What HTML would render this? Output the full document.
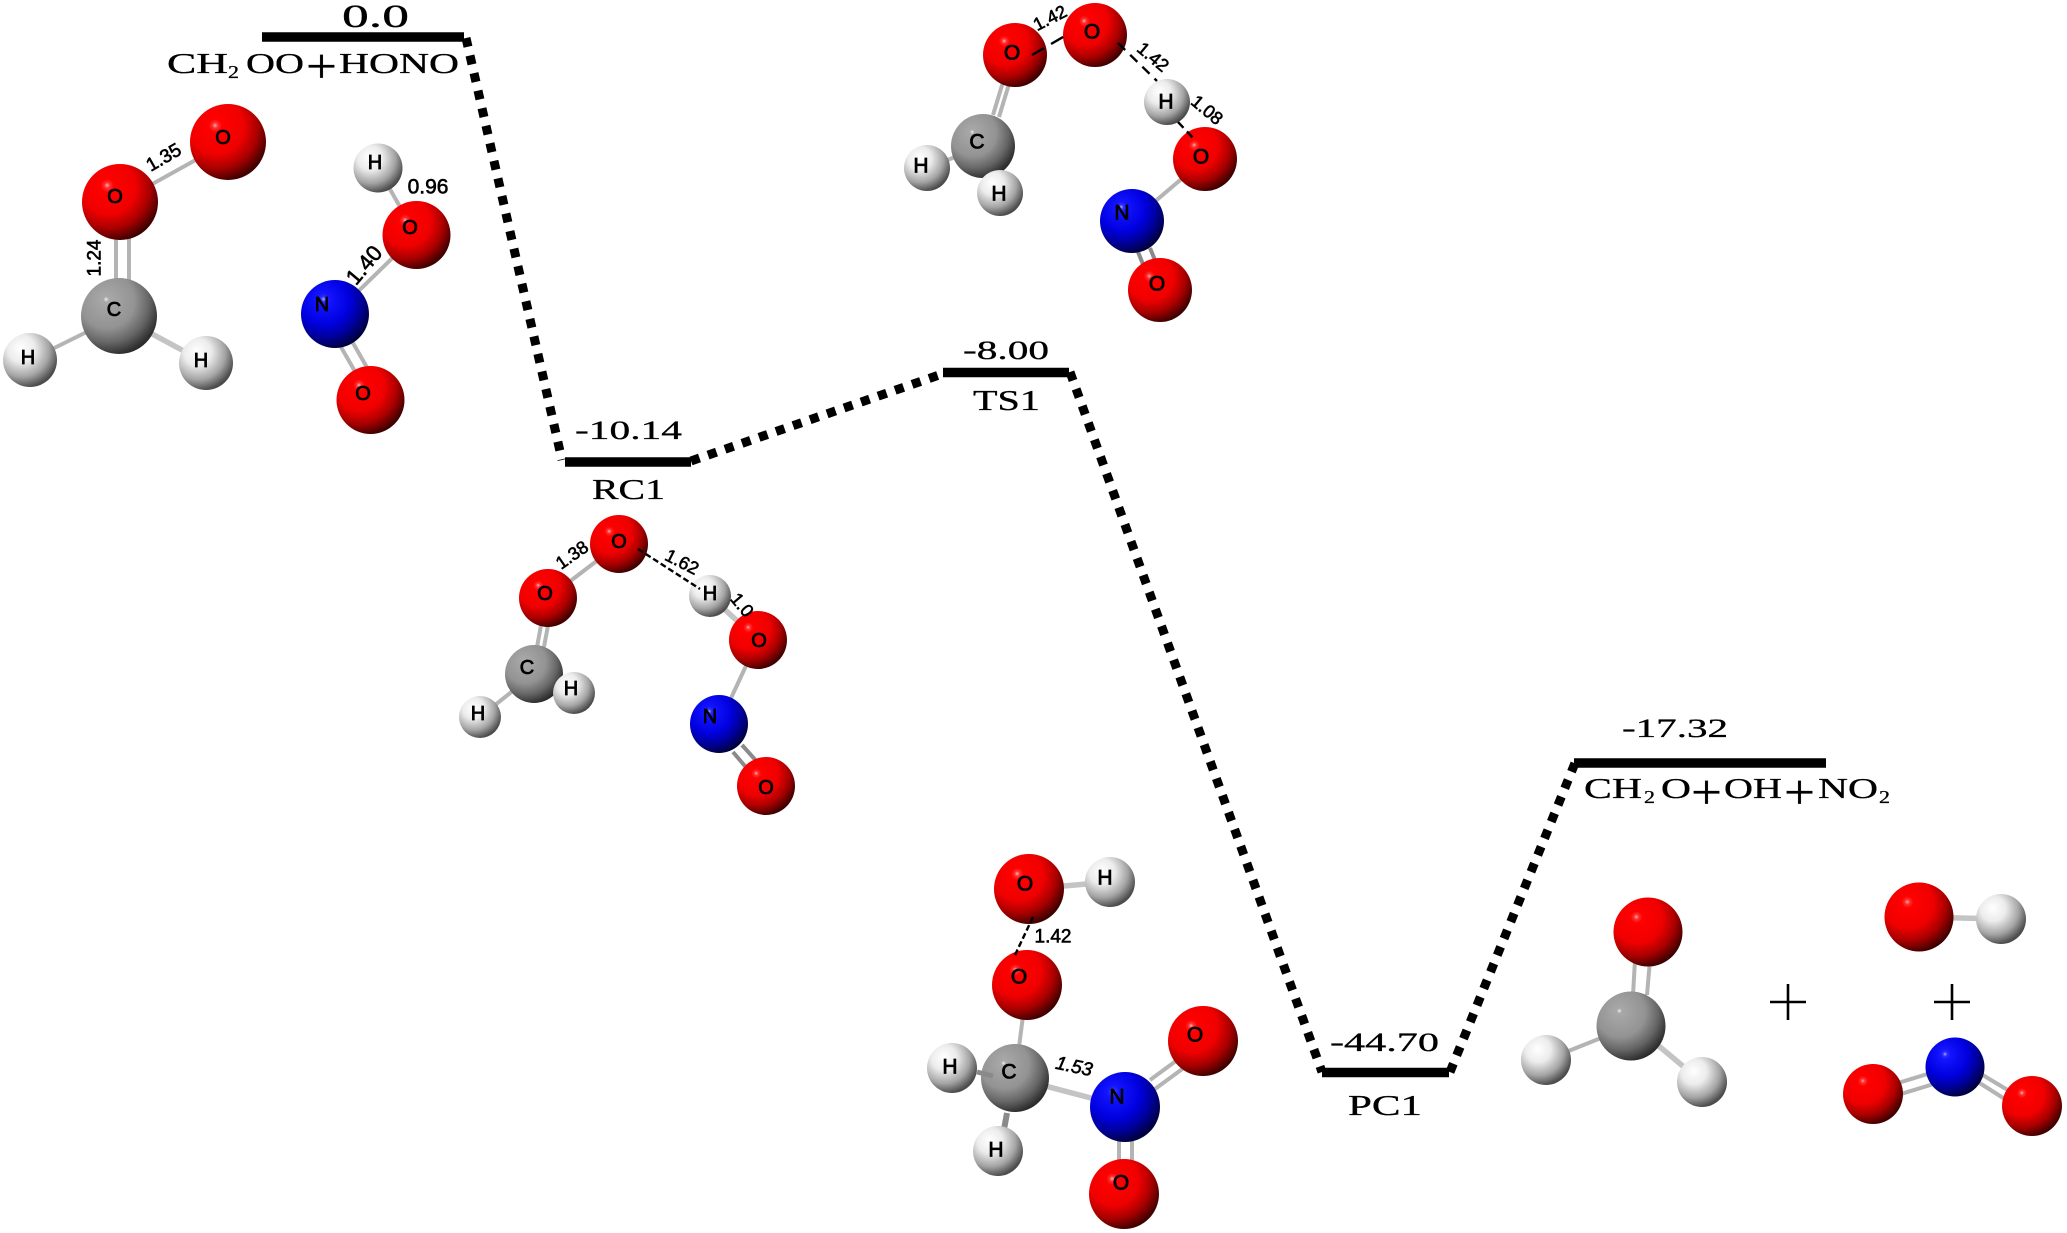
<!DOCTYPE html>
<html>
<head>
<meta charset="utf-8">
<style>
html,body{margin:0;padding:0;background:#fff;}
svg{display:block;}
.t{font-family:"Liberation Serif",serif;fill:#000;stroke:#000;stroke-width:.3;}
.a{font-family:"Liberation Sans",sans-serif;fill:#000;stroke:#000;stroke-width:.8;text-anchor:middle;dominant-baseline:central;}
.l{font-family:"Liberation Sans",sans-serif;fill:#000;stroke:#000;stroke-width:.6;text-anchor:middle;dominant-baseline:central;}
.bar{stroke:#000;stroke-width:9.5;fill:none;}
.dot{stroke:#000;stroke-width:9;stroke-dasharray:9 9;fill:none;}
.b{stroke:#b4b4b4;stroke-width:4;fill:none;}
.w{stroke:#c4c4c4;stroke-width:5.5;fill:none;}
.d{stroke:#8a8a8a;stroke-width:4;fill:none;}
.k{stroke:#000;stroke-width:2.4;stroke-dasharray:8 5;fill:none;}
</style>
</head>
<body>
<svg xmlns="http://www.w3.org/2000/svg" width="2067" height="1233" viewBox="0 0 2067 1233">
<defs>
<radialGradient id="R" cx=".36" cy=".32" r=".72" fx=".33" fy=".28">
<stop offset="0" stop-color="#ffb0b0"/><stop offset=".05" stop-color="#ff3030"/><stop offset=".12" stop-color="#ff0000"/><stop offset=".5" stop-color="#f00000"/><stop offset=".75" stop-color="#a80000"/><stop offset=".95" stop-color="#4c0000"/><stop offset="1" stop-color="#3c0000"/>
</radialGradient>
<radialGradient id="C" cx=".36" cy=".32" r=".72" fx=".33" fy=".28">
<stop offset="0" stop-color="#eeeeee"/><stop offset=".05" stop-color="#a8a8a8"/><stop offset=".5" stop-color="#939393"/><stop offset=".75" stop-color="#666666"/><stop offset=".95" stop-color="#333333"/><stop offset="1" stop-color="#2a2a2a"/>
</radialGradient>
<radialGradient id="H" cx=".36" cy=".32" r=".72" fx=".33" fy=".28">
<stop offset="0" stop-color="#ffffff"/><stop offset=".35" stop-color="#ececec"/><stop offset=".7" stop-color="#a4a4a4"/><stop offset=".95" stop-color="#505050"/><stop offset="1" stop-color="#484848"/>
</radialGradient>
<radialGradient id="N" cx=".36" cy=".32" r=".72" fx=".33" fy=".28">
<stop offset="0" stop-color="#b0b0ff"/><stop offset=".05" stop-color="#3030ff"/><stop offset=".12" stop-color="#1414ff"/><stop offset=".5" stop-color="#0000e0"/><stop offset=".75" stop-color="#000098"/><stop offset=".95" stop-color="#00004a"/><stop offset="1" stop-color="#000038"/>
</radialGradient>
</defs>

<!-- connectors -->
<line class="dot" x1="466" y1="38" x2="562" y2="460"/>
<line class="dot" x1="691" y1="461" x2="945" y2="373"/>
<line class="dot" x1="1070" y1="372" x2="1322" y2="1072"/>
<line class="dot" x1="1450" y1="1072" x2="1575" y2="763"/>

<!-- levels -->
<line class="bar" x1="262" y1="37" x2="464" y2="37"/>
<line class="bar" x1="565" y1="462" x2="691" y2="462"/>
<line class="bar" x1="943" y1="372.500" x2="1069" y2="372.500"/>
<line class="bar" x1="1322" y1="1072.500" x2="1449" y2="1072.500"/>
<line class="bar" x1="1574" y1="763" x2="1826" y2="763"/>

<!-- level labels -->
<text class="t" x="342" y="27" font-size="33" textLength="67" lengthAdjust="spacingAndGlyphs">0.0</text>
<text class="t" x="167" y="73" font-size="28" textLength="61" lengthAdjust="spacingAndGlyphs">CH</text>
<text class="t" x="228" y="78" font-size="18" textLength="11" lengthAdjust="spacingAndGlyphs">2</text>
<text class="t" x="246" y="73" font-size="28" textLength="58" lengthAdjust="spacingAndGlyphs">OO</text>
<text class="t" x="306" y="83" font-size="50" textLength="31" lengthAdjust="spacingAndGlyphs">+</text>
<text class="t" x="339" y="73" font-size="28" textLength="120" lengthAdjust="spacingAndGlyphs">HONO</text>
<text class="t" x="575" y="439" font-size="26" textLength="107" lengthAdjust="spacingAndGlyphs">-10.14</text>
<text class="t" x="592" y="499" font-size="28" textLength="73" lengthAdjust="spacingAndGlyphs">RC1</text>
<text class="t" x="963" y="359" font-size="26" textLength="86" lengthAdjust="spacingAndGlyphs">-8.00</text>
<text class="t" x="973" y="410" font-size="28" textLength="67" lengthAdjust="spacingAndGlyphs">TS1</text>
<text class="t" x="1330" y="1051" font-size="26" textLength="109" lengthAdjust="spacingAndGlyphs">-44.70</text>
<text class="t" x="1348" y="1115" font-size="28" textLength="74" lengthAdjust="spacingAndGlyphs">PC1</text>
<text class="t" x="1622" y="737" font-size="26" textLength="106" lengthAdjust="spacingAndGlyphs">-17.32</text>
<text class="t" x="1584" y="798" font-size="28" textLength="58" lengthAdjust="spacingAndGlyphs">CH</text>
<text class="t" x="1644" y="803" font-size="18" textLength="11" lengthAdjust="spacingAndGlyphs">2</text>
<text class="t" x="1661" y="798" font-size="28" textLength="30" lengthAdjust="spacingAndGlyphs">O</text>
<text class="t" x="1691" y="809" font-size="50" textLength="31" lengthAdjust="spacingAndGlyphs">+</text>
<text class="t" x="1724" y="798" font-size="28" textLength="58" lengthAdjust="spacingAndGlyphs">OH</text>
<text class="t" x="1784" y="809" font-size="50" textLength="31" lengthAdjust="spacingAndGlyphs">+</text>
<text class="t" x="1818" y="798" font-size="28" textLength="60" lengthAdjust="spacingAndGlyphs">NO</text>
<text class="t" x="1879" y="803" font-size="18" textLength="11" lengthAdjust="spacingAndGlyphs">2</text>

<!-- molecule: CH2OO -->
<line class="b" x1="120" y1="202" x2="228" y2="142"/>
<line class="b" x1="116" y1="230" x2="116" y2="290"/>
<line class="b" x1="129" y1="230" x2="129" y2="290"/>
<line class="b" x1="119" y1="316" x2="30" y2="360"/>
<line class="w" x1="119" y1="316" x2="206" y2="363"/>
<circle cx="228" cy="142" r="38" fill="url(#R)"/>
<circle cx="120" cy="202" r="38" fill="url(#R)"/>
<circle cx="119" cy="316" r="38" fill="url(#C)"/>
<circle cx="30" cy="360" r="27" fill="url(#H)"/>
<circle cx="206" cy="363" r="27" fill="url(#H)"/>
<text class="a" x="223" y="138" font-size="20">O</text>
<text class="a" x="115" y="197" font-size="20">O</text>
<text class="a" x="114" y="310" font-size="20">C</text>
<text class="a" x="28" y="358" font-size="20">H</text>
<text class="a" x="201" y="361" font-size="20">H</text>
<text class="l" font-size="19" transform="translate(164 158) rotate(-30)">1.35</text>
<text class="l" font-size="19" transform="translate(95 258) rotate(-90)">1.24</text>

<!-- molecule: HONO -->
<line class="b" x1="378" y1="168" x2="416" y2="235"/>
<line class="b" x1="416" y1="235" x2="335" y2="314"/>
<line class="b" x1="341" y1="347" x2="357" y2="375"/>
<line class="b" x1="353" y1="343" x2="369" y2="371"/>
<circle cx="378" cy="168" r="24.500" fill="url(#H)"/>
<circle cx="416.500" cy="235" r="34" fill="url(#R)"/>
<circle cx="335" cy="314" r="34" fill="url(#N)"/>
<circle cx="370.500" cy="400" r="34" fill="url(#R)"/>
<text class="a" x="375" y="163" font-size="20">H</text>
<text class="a" x="410" y="228" font-size="20">O</text>
<text class="a" x="322" y="305" font-size="20">N</text>
<text class="a" x="363" y="394" font-size="20">O</text>
<text class="l" font-size="21" x="428" y="187">0.96</text>
<text class="l" font-size="22" transform="translate(364 265) rotate(-50)">1.40</text>

<!-- molecule: TS1 -->
<line class="b" x1="993" y1="115" x2="1003" y2="82"/>
<line class="b" x1="999" y1="117" x2="1009" y2="84"/>
<line class="b" x1="983" y1="146" x2="927" y2="168"/>
<line class="w" x1="983" y1="146" x2="1000" y2="193"/>
<line class="b" x1="1205" y1="159" x2="1132" y2="221"/>
<line class="d" x1="1138" y1="252" x2="1147" y2="274"/>
<line class="d" x1="1150" y1="248" x2="1159" y2="270"/>
<circle cx="983" cy="146" r="32" fill="url(#C)"/>
<circle cx="927" cy="168" r="23" fill="url(#H)"/>
<circle cx="1000" cy="193" r="23" fill="url(#H)"/>
<circle cx="1015" cy="55" r="32" fill="url(#R)"/>
<circle cx="1095" cy="35" r="32" fill="url(#R)"/>
<circle cx="1167" cy="102" r="23" fill="url(#H)"/>
<circle cx="1205" cy="159" r="32" fill="url(#R)"/>
<circle cx="1132" cy="221" r="32" fill="url(#N)"/>
<circle cx="1160" cy="290" r="32" fill="url(#R)"/>
<line class="k" x1="1032" y1="55" x2="1070" y2="33" style="stroke-dasharray:14 8"/>
<line class="k" x1="1118" y1="43" x2="1157" y2="81" style="stroke-dasharray:10 7"/>
<line class="k" x1="1178" y1="122" x2="1195" y2="140"/>
<text class="a" x="1012" y="53" font-size="21">O</text>
<text class="a" x="1092" y="32" font-size="21">O</text>
<text class="a" x="1166" y="102" font-size="21">H</text>
<text class="a" x="1201" y="157" font-size="21">O</text>
<text class="a" x="1122" y="213" font-size="21">N</text>
<text class="a" x="1157" y="284" font-size="21">O</text>
<text class="a" x="977" y="142" font-size="21">C</text>
<text class="a" x="921" y="166" font-size="21">H</text>
<text class="a" x="999" y="194" font-size="21">H</text>
<text class="l" font-size="18" transform="translate(1050 18) rotate(-27)">1.42</text>
<text class="l" font-size="18" transform="translate(1153 57) rotate(40)">1.42</text>
<text class="l" font-size="18" transform="translate(1207 110) rotate(40)">1.08</text>

<!-- molecule: RC1 -->
<line class="b" x1="619" y1="544" x2="548" y2="598"/>
<line class="b" x1="537" y1="647" x2="542" y2="620"/>
<line class="b" x1="544" y1="647" x2="549" y2="620"/>
<line class="b" x1="534" y1="674" x2="480" y2="717"/>
<line class="w" x1="534" y1="674" x2="574" y2="693"/>
<line class="w" x1="710" y1="596" x2="758" y2="640"/>
<line class="b" x1="758" y1="640" x2="719" y2="724"/>
<line class="d" x1="733" y1="752" x2="750" y2="772"/>
<line class="d" x1="742" y1="745" x2="759" y2="764"/>
<circle cx="619" cy="544" r="29" fill="url(#R)"/>
<circle cx="548" cy="598" r="29" fill="url(#R)"/>
<circle cx="534" cy="674" r="29" fill="url(#C)"/>
<circle cx="480" cy="717" r="21" fill="url(#H)"/>
<circle cx="574" cy="693" r="21" fill="url(#H)"/>
<circle cx="710" cy="596" r="21" fill="url(#H)"/>
<circle cx="758" cy="640" r="29" fill="url(#R)"/>
<circle cx="719" cy="724" r="29" fill="url(#N)"/>
<circle cx="766" cy="786" r="29" fill="url(#R)"/>
<line class="k" x1="638" y1="549" x2="700" y2="589" style="stroke-dasharray:6 3"/>
<text class="a" x="619" y="542" font-size="20">O</text>
<text class="a" x="545" y="594" font-size="20">O</text>
<text class="a" x="527" y="668" font-size="20">C</text>
<text class="a" x="478" y="714" font-size="20">H</text>
<text class="a" x="571" y="689" font-size="20">H</text>
<text class="a" x="710" y="594" font-size="20">H</text>
<text class="a" x="759" y="641" font-size="20">O</text>
<text class="a" x="710" y="717" font-size="20">N</text>
<text class="a" x="766" y="788" font-size="20">O</text>
<text class="l" font-size="18" transform="translate(572 555) rotate(-35)">1.38</text>
<text class="l" font-size="18" transform="translate(682 562) rotate(27)">1.62</text>
<text class="l" font-size="18" transform="translate(742 605) rotate(50)">1.0</text>

<!-- molecule: PC1 -->
<line class="w" x1="1029" y1="889" x2="1110" y2="882"/>
<line class="b" x1="1027" y1="985" x2="1015" y2="1078"/>
<line class="w" x1="1015" y1="1078" x2="1125" y2="1107"/>
<line class="d" x1="1007" y1="1113" x2="1003" y2="1135" style="stroke-width:6"/>
<line class="b" x1="1150" y1="1080" x2="1180" y2="1058"/>
<line class="b" x1="1155" y1="1089" x2="1185" y2="1067"/>
<line class="b" x1="1119" y1="1135" x2="1119" y2="1165"/>
<line class="b" x1="1132" y1="1135" x2="1132" y2="1165"/>
<circle cx="1029" cy="889" r="35" fill="url(#R)"/>
<circle cx="1110" cy="882" r="25" fill="url(#H)"/>
<circle cx="1027" cy="985" r="35" fill="url(#R)"/>
<circle cx="1015" cy="1078" r="34" fill="url(#C)"/>
<circle cx="952" cy="1068" r="25" fill="url(#H)"/>
<circle cx="998" cy="1151" r="25" fill="url(#H)"/>
<circle cx="1125" cy="1107" r="35" fill="url(#N)"/>
<circle cx="1203" cy="1041" r="35" fill="url(#R)"/>
<circle cx="1124" cy="1194" r="35" fill="url(#R)"/>
<line class="d" x1="977" y1="1072" x2="993" y2="1076" style="stroke-width:5"/>
<line class="k" x1="1033" y1="917" x2="1015" y2="955" style="stroke-dasharray:6 3"/>
<text class="a" x="1025" y="884" font-size="21">O</text>
<text class="a" x="1105" y="878" font-size="21">H</text>
<text class="a" x="1019" y="977" font-size="21">O</text>
<text class="a" x="1009" y="1072" font-size="21">C</text>
<text class="a" x="950" y="1067" font-size="21">H</text>
<text class="a" x="996" y="1150" font-size="21">H</text>
<text class="a" x="1117" y="1097" font-size="21">N</text>
<text class="a" x="1195" y="1035" font-size="21">O</text>
<text class="a" x="1121" y="1183" font-size="21">O</text>
<text class="l" font-size="19" x="1053" y="937">1.42</text>
<text class="l" font-size="19" font-style="italic" transform="translate(1074 1067) rotate(12)">1.53</text>

<!-- products -->
<line class="b" x1="1635" y1="960" x2="1633" y2="995"/>
<line class="b" x1="1650" y1="960" x2="1647" y2="995"/>
<line class="b" x1="1631" y1="1026" x2="1546" y2="1060"/>
<line class="w" x1="1648" y1="1037" x2="1702" y2="1082"/>
<line class="w" x1="1919" y1="917" x2="2001" y2="919"/>
<line class="b" x1="1898" y1="1083" x2="1934" y2="1072"/>
<line class="b" x1="1901" y1="1094" x2="1937" y2="1083"/>
<line class="b" x1="1981" y1="1074" x2="2011" y2="1092"/>
<line class="b" x1="1978" y1="1082" x2="2008" y2="1101"/>
<circle cx="1648" cy="932" r="34.500" fill="url(#R)"/>
<circle cx="1631" cy="1026" r="34.500" fill="url(#C)"/>
<circle cx="1546" cy="1060" r="25" fill="url(#H)"/>
<circle cx="1702" cy="1082" r="25" fill="url(#H)"/>
<circle cx="1919" cy="917" r="34.500" fill="url(#R)"/>
<circle cx="2001" cy="919" r="25" fill="url(#H)"/>
<circle cx="1955" cy="1067" r="29.500" fill="url(#N)"/>
<circle cx="1873" cy="1094" r="30" fill="url(#R)"/>
<circle cx="2032" cy="1106" r="30" fill="url(#R)"/>

<!-- plus signs -->
<path d="M1770 1002H1806M1788 984V1020M1934 1002H1970M1952 984V1020" stroke="#000" stroke-width="2.600" fill="none"/>
</svg>
</body>
</html>
